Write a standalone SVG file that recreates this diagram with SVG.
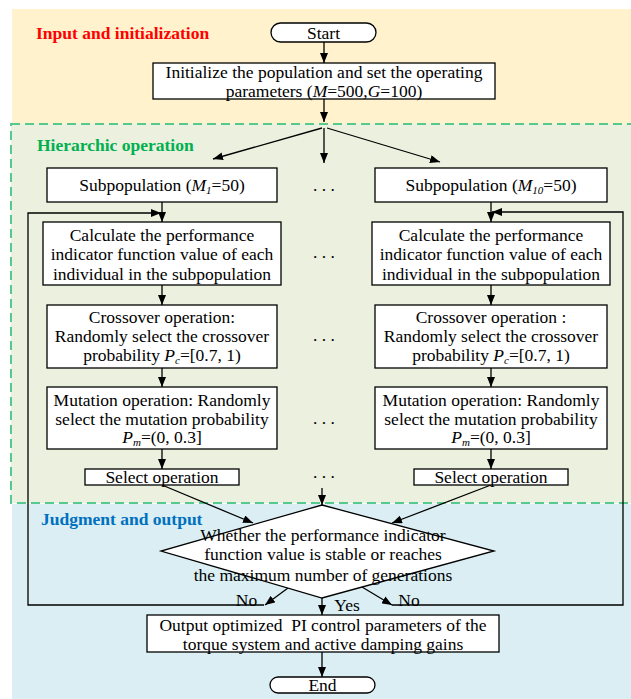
<svg xmlns="http://www.w3.org/2000/svg" width="631" height="699" viewBox="0 0 631 699">
<style>
.t{font-family:"Liberation Serif","Times New Roman",serif;font-size:17.5px;fill:#000}
.c{text-anchor:middle}
.h{font-weight:bold}
.box{fill:#fff;stroke:#000;stroke-width:1.3}
.ln{fill:none;stroke:#000;stroke-width:1.3}
.a{marker-end:url(#ah)}
.i{font-style:italic}
.s{font-style:italic;font-size:11px}
</style>
<defs>
<marker id="ah" markerWidth="10" markerHeight="8" refX="10" refY="4" orient="auto" markerUnits="userSpaceOnUse">
<path d="M0,0 L10,4 L0,8 z" fill="#000"/>
</marker>
</defs>
<g id="backgrounds">
<rect x="12" y="9" width="619" height="115" fill="#FFF2CC"/>
<rect x="12" y="504" width="619" height="195" fill="#DAEEF3"/>
<rect x="11" y="124" width="630" height="379" fill="#EBF1DE" stroke="#57C98E" stroke-width="2" stroke-dasharray="9,5"/>
<text class="t h" x="36" y="39" fill="#FF0000" style="fill:#FF0000">Input and initialization</text>
<text class="t h" x="37" y="151" style="fill:#00B050">Hierarchic operation</text>
<text class="t h" x="41" y="525" style="fill:#0070C0">Judgment and output</text>
</g>
<g id="connectors">
<path class="ln a" d="M324,42 V63"/>
<path class="ln a" d="M324,99 V122"/>
<path class="ln a" d="M322,128 L213,159"/>
<path class="ln a" d="M324,128 V163"/>
<path class="ln a" d="M327,128 L440,162"/>
<path class="ln a" d="M162,202 V222"/>
<path class="ln a" d="M162,285 V305"/>
<path class="ln a" d="M162,368 V387"/>
<path class="ln a" d="M162,449 V469"/>
<path class="ln a" d="M491,202 V222"/>
<path class="ln a" d="M491,285 V305"/>
<path class="ln a" d="M491,368 V387"/>
<path class="ln a" d="M491,449 V469"/>
<path class="ln a" d="M162,485 L253,523"/>
<path class="ln a" d="M491,485 L392,523"/>
<path class="ln a" d="M322,488 V505"/>
<path class="ln a" d="M288,588 L265,605"/>
<path class="ln a" d="M264,605 H28 V213 H161"/>
<path class="ln a" d="M362,587 L392,605"/>
<path class="ln a" d="M392,605 H623 V212 H492"/>
<path class="ln a" d="M322,598 V615"/>
<path class="ln a" d="M322,652 V677"/>
</g>
<g id="start">
<rect class="box" x="271" y="23" width="105" height="19" rx="9.5"/>
<text class="t c" x="323.5" y="38.5">Start</text>
</g>
<g id="init">
<rect class="box" x="153" y="63" width="342" height="36"/>
<text class="t c" x="324" y="78">Initialize the population and set the operating</text>
<text class="t c" x="324" y="97">parameters (<tspan class="i">M</tspan>=500,<tspan class="i">G</tspan>=100)</text>
</g>
<g id="dots">
<text class="t c" x="324" y="191">. . .</text>
<text class="t c" x="324" y="258">. . .</text>
<text class="t c" x="324" y="341">. . .</text>
<text class="t c" x="324" y="424">. . .</text>
<text class="t c" x="324" y="478">. . .</text>
</g>
<g id="subpop1">
<rect class="box" x="47" y="168" width="230" height="34"/>
<text class="t c" x="162" y="191">Subpopulation (<tspan class="i">M</tspan><tspan class="s" dy="3">1</tspan><tspan dy="-3">=50)</tspan></text>
</g>
<g id="calc1">
<rect class="box" x="43" y="222" width="238" height="63"/>
<text class="t c" x="162" y="240.5">Calculate the performance</text>
<text class="t c" x="162" y="260">indicator function value of each</text>
<text class="t c" x="162" y="279.5">individual in the subpopulation</text>
</g>
<g id="cross1">
<rect class="box" x="47" y="305" width="230" height="63"/>
<text class="t c" x="162" y="323">Crossover operation:</text>
<text class="t c" x="162" y="342">Randomly select the crossover</text>
<text class="t c" x="162" y="361">probability <tspan class="i">P</tspan><tspan class="s" dy="3">c</tspan><tspan dy="-3">=[0.7, 1)</tspan></text>
</g>
<g id="mut1">
<rect class="box" x="47" y="387" width="230" height="62"/>
<text class="t c" x="162" y="406">Mutation operation: Randomly</text>
<text class="t c" x="162" y="424.5">select the mutation probability</text>
<text class="t c" x="162" y="443"><tspan class="i">P</tspan><tspan class="s" dy="3">m</tspan><tspan dy="-3">=(0, 0.3]</tspan></text>
</g>
<g id="select1">
<rect class="box" x="85" y="469" width="154" height="16"/>
<text class="t c" x="162" y="483">Select operation</text>
</g>
<g id="subpop10">
<rect class="box" x="375" y="168" width="232" height="34"/>
<text class="t c" x="491" y="191">Subpopulation (<tspan class="i">M</tspan><tspan class="s" dy="3">10</tspan><tspan dy="-3">=50)</tspan></text>
</g>
<g id="calc10">
<rect class="box" x="372" y="222" width="238" height="63"/>
<text class="t c" x="491" y="240.5">Calculate the performance</text>
<text class="t c" x="491" y="260">indicator function value of each</text>
<text class="t c" x="491" y="279.5">individual in the subpopulation</text>
</g>
<g id="cross10">
<rect class="box" x="375" y="305" width="232" height="63"/>
<text class="t c" x="491" y="323">Crossover operation :</text>
<text class="t c" x="491" y="342">Randomly select the crossover</text>
<text class="t c" x="491" y="361">probability <tspan class="i">P</tspan><tspan class="s" dy="3">c</tspan><tspan dy="-3">=[0.7, 1)</tspan></text>
</g>
<g id="mut10">
<rect class="box" x="375" y="387" width="232" height="62"/>
<text class="t c" x="491" y="406">Mutation operation: Randomly</text>
<text class="t c" x="491" y="424.5">select the mutation probability</text>
<text class="t c" x="491" y="443"><tspan class="i">P</tspan><tspan class="s" dy="3">m</tspan><tspan dy="-3">=(0, 0.3]</tspan></text>
</g>
<g id="select10">
<rect class="box" x="414" y="469" width="154" height="16"/>
<text class="t c" x="491" y="483">Select operation</text>
</g>
<g id="decision">
<polygon class="box" points="322,505 494,551 322,598 161,551"/>
<text class="t c" x="323" y="541">Whether the performance indicator</text>
<text class="t c" x="323" y="560">function value is stable or reaches</text>
<text class="t c" x="323" y="581">the maximum number of generations</text>
</g>
<g id="labels">
<text class="t c" x="246.5" y="606">No</text>
<text class="t c" x="347" y="611">Yes</text>
<text class="t c" x="409" y="606">No</text>
</g>
<g id="output">
<rect class="box" x="147" y="615" width="352" height="37"/>
<text class="t c" x="323" y="631" style="white-space:pre">Output optimized  PI control parameters of the</text>
<text class="t c" x="323" y="650">torque system and active damping gains</text>
</g>
<g id="end">
<rect class="box" x="270" y="677" width="105" height="16" rx="8"/>
<text class="t c" x="322.5" y="691">End</text>
</g>
</svg>
